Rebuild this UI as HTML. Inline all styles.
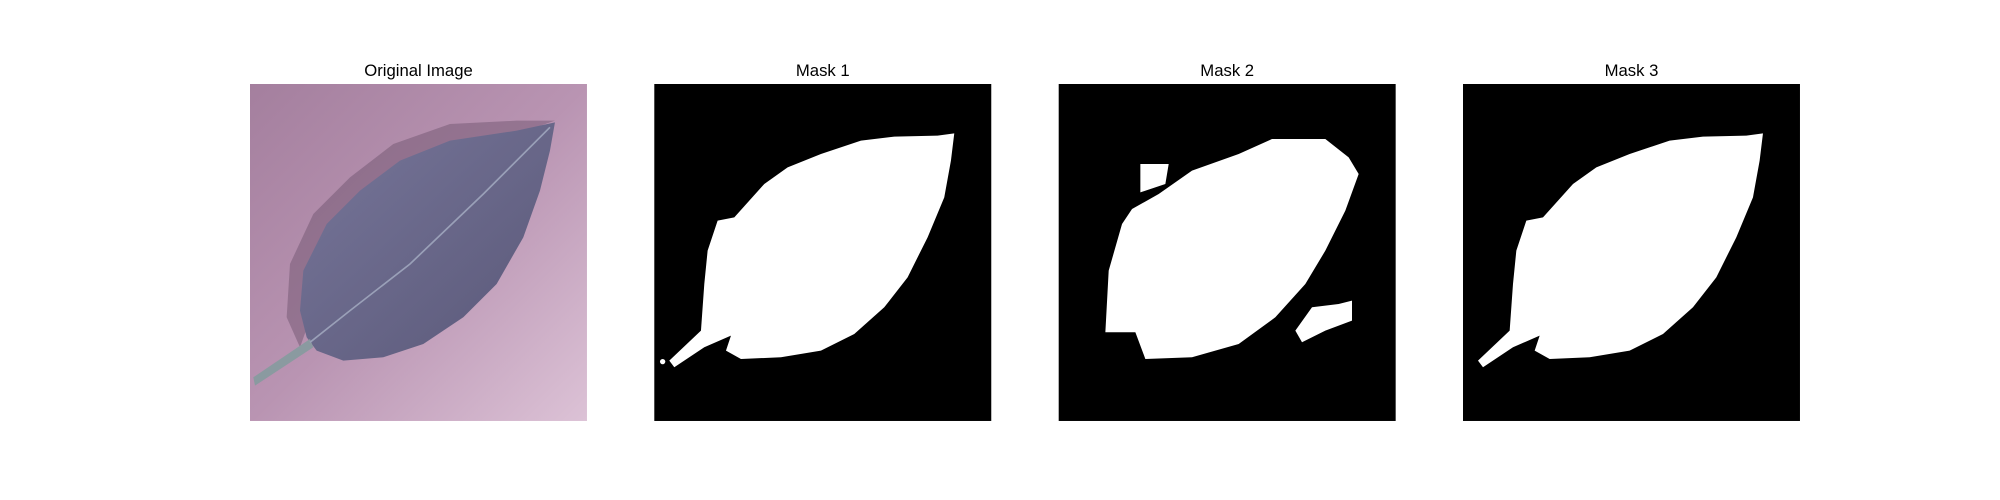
<!DOCTYPE html>
<html><head><meta charset="utf-8"><style>
html,body{margin:0;padding:0;background:#fff;}
svg{display:block;}
text{font-family:"Liberation Sans","DejaVu Sans",sans-serif;font-size:16.7px;fill:#000;}
</style></head><body>
<svg width="2000" height="500" viewBox="0 0 2000 500">
<defs>
<linearGradient id="bg" x1="0" y1="0" x2="1" y2="1">
<stop offset="0" stop-color="#a47f9e"/><stop offset="0.5" stop-color="#b994b2"/><stop offset="1" stop-color="#dcc2d6"/>
</linearGradient>
<linearGradient id="lf" x1="0" y1="0" x2="1" y2="1">
<stop offset="0" stop-color="#77769a"/><stop offset="1" stop-color="#5a5878"/>
</linearGradient>
</defs>

<g>
<text x="418.5" y="76" text-anchor="middle">Original Image</text>
<g transform="translate(250,84) scale(0.3333)">
<rect width="1011" height="1011" fill="url(#bg)"/>
<path d="M915,110 L800,110 L600,120 L430,180 L300,280 L190,390 L120,540 L110,700 L150,790 L200,650 L300,400 L500,230 L800,150 Z" fill="#6a4f6a" opacity="0.45"/>
<path d="M915,115 L800,140 L600,170 L450,230 L330,320 L230,420 L160,560 L150,680 L170,760 L200,800 L280,830 L400,820 L520,780 L640,700 L740,600 L820,460 L870,320 L900,200 Z" fill="url(#lf)"/>
<path d="M180,765 L10,880 L15,905 L190,790 Z" fill="#8a9aa0"/>
<path d="M900,130 L700,330 L480,540 L300,680 L180,775" stroke="#9aa0b8" stroke-width="5" fill="none"/>
</g>
</g>

<g>
<text x="822.8" y="76" text-anchor="middle">Mask 1</text>
<g transform="translate(654.3,84) scale(0.3333)">
<rect width="1011" height="1011" fill="#000"/>
<path d="M900,148 L890,230 L870,340 L820,460 L760,580 L690,670 L600,750 L500,800 L380,820 L260,825 L215,800 L230,755 L150,790 L60,850 L45,830 L140,740 L150,600 L160,500 L190,410 L240,400 L330,300 L400,250 L500,210 L620,170 L720,158 L850,155 Z" fill="#fff"/>
<circle cx="25" cy="833" r="8" fill="#fff"/>
</g>
</g>

<g>
<text x="1227.2" y="76" text-anchor="middle">Mask 2</text>
<g transform="translate(1058.7,84) scale(0.3333)">
<rect width="1011" height="1011" fill="#000"/>
<path d="M140,745 L150,560 L190,420 L220,375 L300,330 L400,260 L540,210 L640,165 L800,165 L870,220 L900,270 L860,380 L800,500 L740,600 L650,700 L540,780 L400,820 L260,825 L230,745 Z" fill="#fff"/>
<path d="M245,240 L330,240 L320,300 L245,325 Z" fill="#fff"/>
<path d="M710,740 L760,670 L840,660 L880,650 L880,710 L800,740 L730,775 Z" fill="#fff"/>
</g>
</g>

<g>
<text x="1631.5" y="76" text-anchor="middle">Mask 3</text>
<g transform="translate(1463,84) scale(0.3333)">
<rect width="1011" height="1011" fill="#000"/>
<path d="M900,148 L890,230 L870,340 L820,460 L760,580 L690,670 L600,750 L500,800 L380,820 L260,825 L215,800 L230,755 L150,790 L60,850 L45,830 L140,740 L150,600 L160,500 L190,410 L240,400 L330,300 L400,250 L500,210 L620,170 L720,158 L850,155 Z" fill="#fff"/>
</g>
</g>
</svg>
</body></html>
